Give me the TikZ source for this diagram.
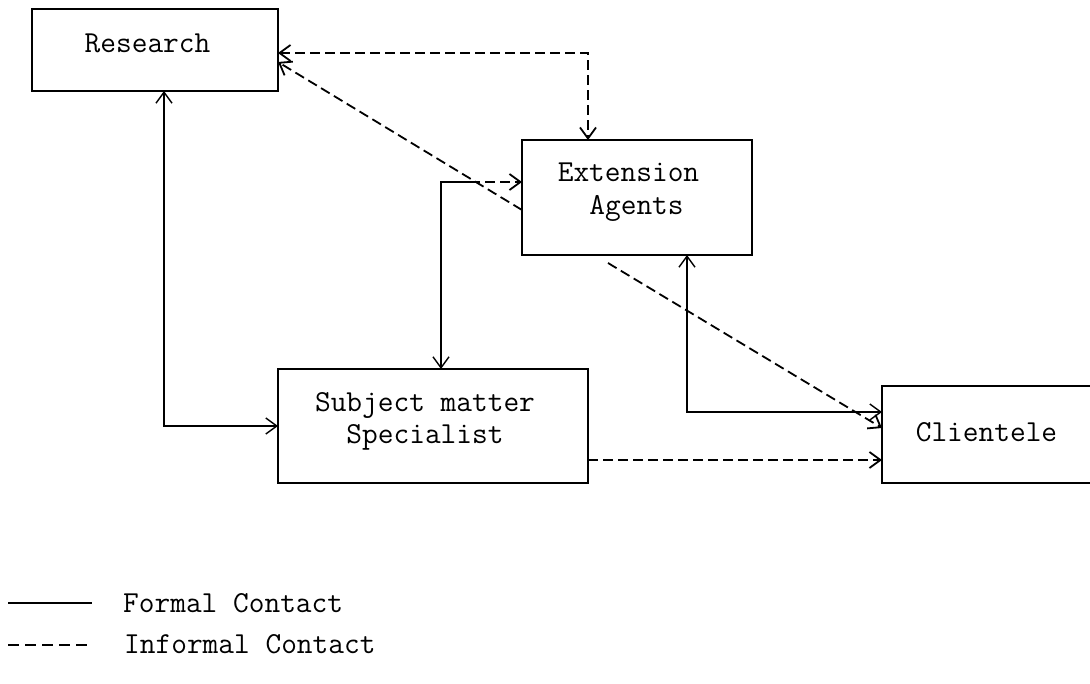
\documentclass[tikz,border=0pt]{standalone}
\usepackage{fontspec}
\usetikzlibrary{arrows.meta}

\tikzset{
  x=1pt, y=-1pt,
  box/.style={draw=black, line width=1.4pt, inner sep=0pt, outer sep=0pt},
  lbl/.style={font=\ttfamily\fontsize{30.5pt}{32pt}\selectfont, inner sep=0pt, anchor=base},
  formal/.style={draw=black, line width=1.4pt},
  informal/.style={draw=black, line width=1.8pt, dash pattern=on 10pt off 5pt},
}

\begin{document}
\begin{tikzpicture}[>={Straight Barb[length=11pt,width=16pt]}]
  \useasboundingbox[fill=white] (0,0) rectangle (1090,684);

  % boxes
  \node[box, minimum width=246pt, minimum height=82pt]  (research)  at (155,50)    {};
  \node[box, minimum width=230pt, minimum height=115pt] (extension) at (637,197.5) {};
  \node[box, minimum width=310pt, minimum height=114pt] (sms)       at (433,426)   {};
  % Clientele runs off the right-hand edge, so only three sides are drawn
  \node[inner sep=0pt, outer sep=0pt, minimum width=208pt, minimum height=97pt] (clientele) at (986,434.5) {};
  \draw[formal] (clientele.north east) -- (clientele.north west)
                -- (clientele.south west) -- (clientele.south east);

  % box texts
  \node[lbl] (research-t)  at (147.5,53) {Research};
  \node[lbl] (extension-t) at (628.5,182) {Extension};
  \node[lbl] (agents-t)    at (636.5,215) {Agents};
  \node[lbl] (subject-t)   at (425,412)  {Subject matter};
  \node[lbl] (special-t)   at (425,443)  {Specialist};
  \node[lbl] (clientele-t) at (986.5,442) {Clientele};

  % informal: Research <-> Extension Agents (over the top)
  \draw[informal, <->] ([yshift=-3pt]research.east) -| ([xshift=-49pt]extension.north);

  % informal: Extension Agents -> Research (diagonal)
  \draw[informal, ->] ([yshift=-12.5pt]extension.west) -- ([yshift=-12pt]research.east);

  % formal: Research <-> Subject matter Specialist
  \draw[formal, <->] ([xshift=9pt]research.south) |- (sms.west);

  % Subject matter Specialist <-> Extension Agents
  \coordinate (sms-ext) at (470,182);
  \draw[formal, <-] ([xshift=8pt]sms.north) |- (sms-ext);
  \draw[informal, ->] (sms-ext) -- ([yshift=15.5pt]extension.west);

  % informal: Extension Agents -> Clientele
  \draw[informal, ->] ([xshift=-29pt,yshift=-8pt]extension.south) -- ([yshift=6.5pt]clientele.west);

  % formal: Clientele <-> Extension Agents
  \draw[formal, <->] ([xshift=50pt]extension.south) |- ([yshift=22.5pt]clientele.west);

  % informal: Subject matter Specialist -> Clientele
  \draw[informal, ->] ([yshift=-34pt]sms.east) -- ([yshift=-25.5pt]clientele.west);

  % key
  \coordinate (k1a) at (8,603);  \coordinate (k1b) at (92,603);
  \coordinate (k2a) at (8,645);  \coordinate (k2b) at (92,645);
  \draw[formal, line width=1.2pt] (k1a) -- (k1b);
  \draw[line width=1.3pt, dash pattern=on 11pt off 6pt] (k2a) -- (k2b);
  \node[lbl, anchor=base west] (key-formal)   at (123,612) {Formal Contact};
  \node[lbl, anchor=base west] (key-informal) at (124,653) {Informal Contact};
\end{tikzpicture}
\end{document}
